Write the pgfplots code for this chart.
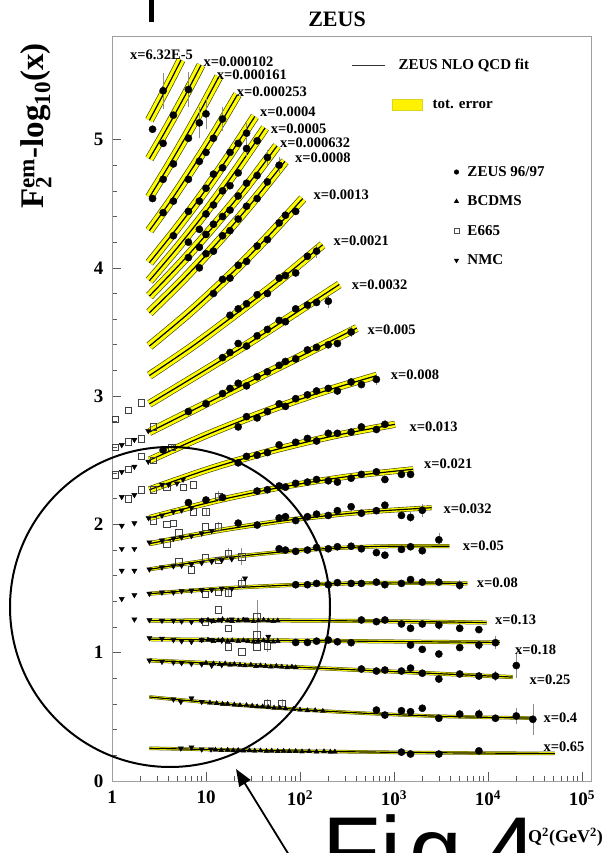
\documentclass[border=0pt]{standalone}
\usepackage{fontspec}
\setmainfont{Liberation Serif}
\newfontfamily\handfont{Liberation Sans}
\usepackage{pgfplots}
\pgfplotsset{compat=1.18}
\usetikzlibrary{arrows.meta}
\definecolor{bandfill}{RGB}{255,255,0}
\definecolor{bandedge}{RGB}{70,70,0}
\newcommand{\band}[3]{%
 \addplot[smooth,no markers,draw=bandedge,line width=#1pt] coordinates {#3};
 \addplot[smooth,no markers,draw=bandfill,line width=#2pt] coordinates {#3};
 \addplot[smooth,no markers,draw=black,line width=1.2pt] coordinates {#3};
}
\begin{document}
\begin{tikzpicture}
\clip (0pt,0pt) rectangle (604pt,853pt);
\begin{axis}[
 at={(112pt,72pt)}, anchor=south west,
 scale only axis, width=479pt, height=745pt,
 xmode=log, xmin=1, xmax=124700, ymin=0, ymax=5.807,
 axis line style={draw=gray!75, line width=0.7pt},
 tick align=inside, xtick pos=bottom, ytick pos=left,
 major tick length=9pt, minor tick length=5pt,
 every tick/.style={gray!70!black, line width=0.6pt},
 xtick={1,10,100,1000,10000,100000},
 minor xtick={2,3,4,5,6,7,8,9,20,30,40,50,60,70,80,90,200,300,400,500,600,700,800,900,2000,3000,4000,5000,6000,7000,8000,9000,20000,30000,40000,50000,60000,70000,80000,90000},
 xticklabels={1,10,10$^{\mathbf{2}}$,10$^{\mathbf{3}}$,10$^{\mathbf{4}}$,10$^{\mathbf{5}}$},
 ytick={0,1,2,3,4,5}, minor y tick num=4,
 yticklabels={0,1,2,3,4,5},
 ticklabel style={font=\bfseries\fontsize{19}{19}\selectfont},
 yticklabel style={xshift=-5pt},
 xticklabel style={yshift=-6pt},
 legend style={at={(0.499,0.972)}, anchor=north west, draw=none, fill=none,
   font=\bfseries\fontsize{15}{15}\selectfont, row sep=25pt, inner sep=0pt,
   nodes={inner sep=2pt}},
 legend cell align=left,
 error bars/error bar style={black!45, line width=0.5pt},
]
\addlegendimage{legend image code/.code={\draw[black!80,line width=0.8pt] (0pt,0pt) -- (33pt,0pt); \path[draw=none] (0pt,0pt) -- (45pt,0pt);}}
\addlegendentry{ZEUS NLO QCD fit}
\addlegendimage{legend image code/.code={\path[draw=none] (0pt,0pt) -- (45pt,0pt); \fill[yellow,draw=yellow!85!black,line width=0.4pt,overlay] (41pt,-5.5pt) rectangle (71pt,5.5pt);}}
\addlegendentry{\hspace{34pt}tot. error}

% fit curves with total error band
\band{9}{7.6}{(2.5,5.15)(3.03,5.264)(3.68,5.38)(4.47,5.499)(5.42,5.62)}
\band{9}{7.6}{(2.5,4.85)(3.43,5.023)(4.71,5.203)(6.46,5.388)(8.85,5.58)}
\band{9}{7.6}{(2.5,4.55)(3.83,4.77)(5.86,5.00)(8.97,5.24)(13.7,5.49)}
\band{9}{7.6}{(2.5,4.29)(4.29,4.53)(7.36,4.79)(12.6,5.06)(21.6,5.35)}
\band{9}{7.6}{(2.5,4.04)(4.77,4.297)(9.10,4.57)(17.4,4.867)(33.1,5.18)}
\band{9}{7.6}{(2.5,3.90)(5.08,4.166)(10.3,4.45)(20.9,4.76)(42.5,5.09)}
\band{9}{7.6}{(2.5,3.78)(5.46,4.04)(11.9,4.32)(26.1,4.62)(56.9,4.95)}
\band{9}{7.6}{(2.5,3.65)(5.74,3.91)(13.2,4.195)(30.2,4.50)(69.2,4.83)}
\band{9}{7.6}{(2.5,3.39)(6.40,3.64)(16.4,3.915)(41.9,4.215)(107,4.54)}
\band{8.5}{7.2}{(2.5,3.16)(7.23,3.39)(20.8,3.64)(60.3,3.90)(174,4.18)}
\band{8}{6.7}{(2.5,2.94)(8.0,3.163)(25.6,3.39)(81.8,3.628)(262,3.87)}
\band{8}{6.7}{(2.5,2.72)(8.89,2.9225)(31.6,3.125)(113,3.3275)(401,3.53)}
\band{7.5}{6.2}{(2.5,2.50)(10.1,2.697)(40.5,2.8725)(163,3.027)(655,3.16)}
\band{7}{5.7}{(2.5,2.27)(11.2,2.435)(50.6,2.575)(228,2.69)(1023,2.78)}
\band{6}{4.8}{(2.5,2.05)(12.6,2.1825)(63.4,2.29)(318,2.3725)(1600,2.43)}
\band{5}{3.8}{(2.5,1.85)(14.1,1.954)(79.3,2.035)(447,2.094)(2512,2.13)}
\band{4}{3}{(2.5,1.65)(15.7,1.738)(98.4,1.7975)(618,1.828)(3873,1.83)}
\band{4}{3}{(2.5,1.46)(17.5,1.504)(123,1.5325)(861,1.544)(6026,1.54)}
\band{4}{3}{(2.5,1.25)(19.7,1.252)(156,1.25)(1227,1.244)(9683,1.235)}
\band{4}{3}{(2.5,1.105)(21.4,1.099)(183,1.0925)(1570,1.086)(13400,1.08)}
\band{4}{3}{(2.5,0.94)(23.1,0.9075)(214,0.875)(1982,0.8425)(18300,0.81)}
\band{3.5}{2.5}{(2.5,0.655)(26.2,0.5875)(275,0.5375)(2884,0.505)(30200,0.49)}
\band{3.5}{2.5}{(2.5,0.255)(30.0,0.239)(360,0.2275)(4306,0.219)(51600,0.215)}

% E665 (open squares)
\addplot[only marks, mark=square, mark size=3.3pt, mark options={black!75, line width=0.5pt},
 error bars/.cd, y dir=both, y explicit, error mark=none] coordinates {
 (1.08,2.82)(1.49,2.89)(2.04,2.95)
 (1.08,2.60)(1.49,2.645)(2.04,2.67)(2.75,2.76)
 (1.08,2.385)(1.49,2.43)(2.04,2.53)(2.75,2.50)(4.3,2.60) +- (0,0.03)
 (1.49,2.20)(2.04,2.27)(2.75,2.27)(3.8,2.29)(5.7,2.29)(7.3,2.31)
 (2.75,2.03)(3.8,2.00)(4.5,2.01)(7.3,2.10)(10,2.10) +- (0,0.03) (13.6,2.22) +- (0,0.04)
 (3.8,1.85)(5.1,1.935)(9.8,1.98)(13.5,1.98) +- (0,0.04)
 (5.1,1.71)(7.0,1.645)(9.8,1.745)(13.5,1.72)(17.3,1.775) +- (0,0.04) (24,1.75) +- (0,0.07)
 (9.8,1.457)(13.5,1.475)(17.3,1.468) +- (0,0.03) (24,1.54) +- (0,0.04)
 (9.8,1.24)(13.5,1.333)(17.3,1.19)(34.7,1.28) +- (0,0.13)
 (17.3,1.047)(24,1.008)(34.7,1.138) +- (0,0.06) (34.7,1.047)(45,1.052) +- (0,0.05)
 (45,0.606) +- (0,0.03) (64,0.606) +- (0,0.03)
};
% NMC (down triangles)
\addplot[only marks, mark=triangle*, mark size=3pt, mark options={black, rotate=180}] coordinates {
 (1.27,2.62)(1.73,2.66)(2.43,2.73)
 (1.27,2.41)(1.73,2.45)(2.43,2.49)
 (1.27,2.215)(1.73,2.23)(3.4,2.31)(4.0,2.31)(4.9,2.32)(5.7,2.35)
 (1.27,1.99)(1.73,2.01)(2.45,2.05)(3.4,2.07)(4.5,2.10)(5.5,2.11)(7.0,2.13)
 (1.27,1.81)(1.73,1.81)(2.5,1.86)(3.4,1.875)(4.5,1.89)(5.5,1.90)(7,1.91)(9,1.93)(11.5,1.95)
 (1.27,1.64)(1.73,1.64)(2.5,1.65)(3.4,1.665)(4.5,1.675)(5.5,1.68)(7,1.69)(9,1.70)(11.5,1.71)(14.7,1.72)(18.8,1.73)
 (1.27,1.42)(1.73,1.45)(2.5,1.46)(3.4,1.47)(4.5,1.47)(5.5,1.48)(7,1.485)(9,1.49)(11.5,1.49)(14.7,1.50)(18.8,1.50)(26,1.58)
 (1.73,1.26)(2.5,1.255)(3.4,1.25)(4.5,1.25)(5.5,1.245)(7,1.24)(9,1.25)(11.5,1.25)(14.7,1.255)(18.8,1.26)(26,1.26)
 (2.5,1.115)(3.4,1.11)(4.5,1.10)(5.5,1.09)(7,1.085)(9,1.10)(11.5,1.10)(14.7,1.095)(46,1.125)
 (2.5,0.94)(3.4,0.93)(4.5,0.925)(5.5,0.92)(7,0.915)(9,0.91)(11.5,0.90)(14.7,0.905)
 (4.5,0.637)(5.4,0.618)(7.0,0.645)(9.0,0.618)
 (5.4,0.255)(7.0,0.263)(9.0,0.247)(11.3,0.247)
};
% BCDMS (triangles)
\addplot[only marks, mark=triangle*, mark size=2.8pt, mark options={black}] coordinates {
 (9,1.25)(10.5,1.255)(12,1.245)(13.5,1.25)(15,1.26)(17,1.25)(19,1.245)(22,1.25)(25,1.255)(28,1.25)(32,1.245)(36,1.25)(41,1.255)(46,1.25)(52,1.245)(58,1.25)
 (9,1.095)(10.5,1.1)(12,1.09)(13.5,1.095)(15,1.1)(17,1.09)(19,1.095)(22,1.09)(25,1.095)(28,1.09)(32,1.085)(36,1.09)(41,1.095)(46,1.09)(52,1.085)(58,1.09)
 (10,0.92)(12,0.915)(14,0.91)(16,0.915)(18,0.905)(20,0.91)(23,0.905)(26,0.9)(30,0.905)(34,0.895)(38,0.9)(43,0.895)(49,0.89)(56,0.895)(64,0.89)(73,0.885)(82,0.89)(90,0.885)
 (11,0.61)(13,0.605)(15,0.6)(17,0.6)(20,0.595)(23,0.59)(27,0.59)(31,0.585)(35,0.58)(40,0.58)(46,0.575)(53,0.57)(61,0.57)(70,0.565)(85,0.56)(100,0.555)(120,0.55)(145,0.55)(175,0.545)
 (12.6,0.243)(14.5,0.24)(17,0.242)(19.5,0.238)(22,0.24)(25,0.236)(29,0.238)(33,0.235)(38,0.237)(44,0.233)(50,0.235)(58,0.232)(67,0.234)(77,0.231)(90,0.232)(105,0.229)(125,0.231)(150,0.228)(180,0.23)(210,0.227)(235,0.228)
};
% ZEUS 96/97 (filled circles)
\addplot[only marks, mark=*, mark size=3.6pt, mark options={black},
 error bars/.cd, y dir=both, y explicit, error mark=none] coordinates {
 (2.7,5.08)(3.5,5.38) +- (0,0.14)
 (3.5,4.97)(4.5,5.19)(6.5,5.39) +- (0,0.14)
 (2.7,4.54)(3.5,4.69)(4.5,4.81)(6.5,5.01)(8.5,5.13) +- (0,0.12) (10,5.20) +- (0,0.12)
 (3.5,4.43)(4.5,4.52)(6.5,4.69)(8.5,4.83)(10,4.90)(12,5.01)(15,5.16) +- (0,0.09)
 (4.5,4.25)(6.5,4.44)(8.5,4.52)(10,4.62)(12,4.73)(15,4.78)(18,4.90)(22,4.97)(27,5.05) +- (0,0.08)
 (6.5,4.20)(8.5,4.30)(10,4.42)(12,4.49)(15,4.60)(18,4.64)(22,4.74)(27,4.93) +- (0,0.07) (35,4.99)
 (6.5,4.08)(8.5,4.16)(10,4.26)(12,4.34)(15,4.40)(18,4.45)(22,4.56)(27,4.66)(35,4.72)(45,4.86) +- (0,0.06)
 (8.5,4.00)(10,4.11)(12,4.13)(15,4.25)(18,4.29)(22,4.38)(27,4.48)(35,4.54)(45,4.67)(60,4.80) +- (0,0.06)
 (12,3.80)(15,3.91)(18,3.92)(22,4.02)(27,4.05)(35,4.17)(45,4.22)(60,4.35)(70,4.41)(90,4.44)
 (18,3.63)(22,3.68)(27,3.72)(35,3.79)(45,3.80)(60,3.92)(70,3.94)(90,3.96)(120,4.09)(150,4.13) +- (0,0.05)
 (15,3.30)(18,3.34)(22,3.41)(27,3.39)(35,3.47)(45,3.52)(60,3.59)(70,3.58)(90,3.68)(120,3.71)(150,3.73)(200,3.74) +- (0,0.05)
 (6.5,2.88)(10,2.94)(15,3.02)(18,3.06)(22,3.10)(27,3.08)(35,3.15)(45,3.19)(60,3.24)(70,3.27)(90,3.29)(120,3.36)(150,3.38)(200,3.40)(250,3.41)(350,3.50) +- (0,0.04)
 (3.5,2.58)(22,2.76)(27,2.84)(35,2.83)(45,2.88)(60,2.94)(70,2.92)(90,2.98)(120,3.01)(150,3.04)(200,3.06)(250,3.04)(350,3.11)(450,3.09)(650,3.13) +- (0,0.04)
 (22,2.48)(27,2.53)(35,2.54)(45,2.56)(60,2.62)(90,2.64)(120,2.67)(150,2.65)(200,2.71)(250,2.71)(350,2.72)(450,2.76)(650,2.74)(800,2.78) +- (0,0.03)
 (6.5,2.17)(10,2.19)(15,2.21)(35,2.26)(45,2.27)(60,2.30)(70,2.29)(90,2.32)(120,2.33)(150,2.35)(200,2.34)(250,2.33)(350,2.36)(450,2.39)(650,2.41)(800,2.35) +- (0,0.03) (1200,2.39)(1500,2.39) +- (0,0.03)
 (22,2.01)(35,1.995)(60,2.05)(70,2.06)(90,2.03)(120,2.06)(150,2.08)(200,2.07)(250,2.107)(350,2.138)(450,2.087)(650,2.107)(800,2.15)(1200,2.07)(1500,2.055) +- (0,0.04) (2000,2.11) +- (0,0.05)
 (60,1.81)(70,1.80)(90,1.79)(120,1.80)(150,1.82)(200,1.81)(250,1.826)(350,1.83)(450,1.81)(650,1.78)(800,1.76)(1200,1.805)(1500,1.826)(2000,1.795)(3000,1.88) +- (0,0.05)
 (90,1.53)(120,1.53)(150,1.54)(200,1.53)(250,1.546)(350,1.54)(450,1.54)(650,1.55)(800,1.53)(1200,1.54)(1500,1.57)(2000,1.55)(3000,1.55)(5000,1.525) +- (0,0.04)
 (450,1.255)(650,1.242)(800,1.255)(1200,1.224)(1500,1.19) +- (0,0.03) (2000,1.224)(3000,1.216) +- (0,0.04) (5000,1.19) +- (0,0.03) (8000,1.18) +- (0,0.03)
 (90,1.08)(120,1.08)(150,1.09)(200,1.099)(250,1.085)(350,1.078)(1500,1.06)(2000,1.026)(3000,0.99)(5000,1.04)(8000,1.06) +- (0,0.04) (12000,1.078) +- (0,0.05)
 (450,0.873)(650,0.857)(800,0.865)(1200,0.857)(1500,0.88)(2000,0.84)(3000,0.795)(5000,0.834)(8000,0.818) +- (0,0.03) (12000,0.818) +- (0,0.04) (20000,0.90) +- (0,0.1)
 (650,0.553)(800,0.514)(1200,0.548)(1500,0.54)(2000,0.567)(3000,0.489)(5000,0.522)(8000,0.522) +- (0,0.04) (12000,0.489)(20000,0.507) +- (0,0.06) (30000,0.481) +- (0,0.12)
 (1200,0.225)(1500,0.21)(3000,0.21)(8000,0.235)
};
\end{axis}
% second (hidden) axis carrying the marker legend
\begin{axis}[
 at={(112pt,72pt)}, anchor=south west,
 scale only axis, width=479pt, height=745pt,
 xmode=log, xmin=1, xmax=124700, ymin=0, ymax=5.807, hide axis,
 legend style={at={(0.7125,0.828)}, anchor=north west, draw=none, fill=none,
   font=\bfseries\fontsize{15}{15}\selectfont, row sep=14pt, inner sep=0pt,
   nodes={inner sep=2pt}},
 legend cell align=left,
]
\addlegendimage{legend image code/.code={\path[draw=none] (-3pt,0pt) -- (9pt,0pt); \draw[black,fill=black] plot[only marks, mark=*, mark size=2.3pt] coordinates {(0pt,0pt)};}}
\addlegendentry{ZEUS 96/97}
\addlegendimage{legend image code/.code={\path[draw=none] (-3pt,0pt) -- (9pt,0pt); \draw[black,fill=black] plot[only marks, mark=triangle*, mark size=2.6pt] coordinates {(0pt,0pt)};}}
\addlegendentry{BCDMS}
\addlegendimage{legend image code/.code={\path[draw=none] (-3pt,0pt) -- (9pt,0pt); \draw[black!70,line width=0.5pt] plot[only marks, mark=square, mark size=2.5pt] coordinates {(0pt,0pt)};}}
\addlegendentry{E665}
\addlegendimage{legend image code/.code={\path[draw=none] (-3pt,0pt) -- (9pt,0pt); \draw[black,fill=black] plot[only marks, mark=triangle*, mark size=2.6pt, mark options={rotate=180}] coordinates {(0pt,0pt)};}}
\addlegendentry{NMC}
\end{axis}
\begin{scope}[x=1pt,y=1pt]
% bin labels
\begin{scope}[every node/.style={anchor=west, inner sep=0pt, font=\bfseries\fontsize{14.5}{14.5}\selectfont}]
\node at (130,798) {x=6.32E-5};
\node at (203.3,791.3) {x=0.000102};
\node at (216.7,778) {x=0.000161};
\node at (236.7,761) {x=0.000253};
\node at (260,741.3) {x=0.0004};
\node at (270.7,724) {x=0.0005};
\node at (280,710) {x=0.000632};
\node at (295,695.3) {x=0.0008};
\node at (313.3,658) {x=0.0013};
\node at (333.3,612.3) {x=0.0021};
\node at (351.7,568) {x=0.0032};
\node at (367.3,523) {x=0.005};
\node at (390.7,478) {x=0.008};
\node at (409.3,426.3) {x=0.013};
\node at (424,389) {x=0.021};
\node at (443.3,344) {x=0.032};
\node at (462.7,307.3) {x=0.05};
\node at (476.7,270.3) {x=0.08};
\node at (495,233) {x=0.13};
\node at (515,203) {x=0.18};
\node at (529.3,173.7) {x=0.25};
\node at (543.3,135.7) {x=0.4};
\node at (543.3,106.3) {x=0.65};
\end{scope}
% titles and axis labels
\node[font=\bfseries\fontsize{22}{22}\selectfont] at (337,834) {ZEUS};
\node[rotate=90, font=\bfseries\fontsize{33}{33}\selectfont] at (36,727) {$\mathbf{F_2^{em}}$-log$_{\mathbf{10}}$(x)};
% hand-drawn annotations
\draw[line width=2pt] (170,246) circle (160pt);
\draw[line width=1.8pt, -{Triangle[length=17pt,width=13pt]}] (289,-2) -- (236,84);
\draw[line width=5pt] (151,856) -- (151,831);
\node[anchor=base west, inner sep=0pt, font=\handfont\fontsize{95}{95}\selectfont] at (322,-30) {Fi\hspace{8pt}g};
\node[anchor=base west, inner sep=0pt, font=\handfont\fontsize{95}{95}\selectfont] at (484,-30) {4};
\node[anchor=east, inner sep=0pt, font=\bfseries\fontsize{18}{18}\selectfont] at (603,16) {Q$^{\mathbf{2}}$(GeV$^{\mathbf{2}}$)};
\end{scope}
\end{tikzpicture}
\end{document}
